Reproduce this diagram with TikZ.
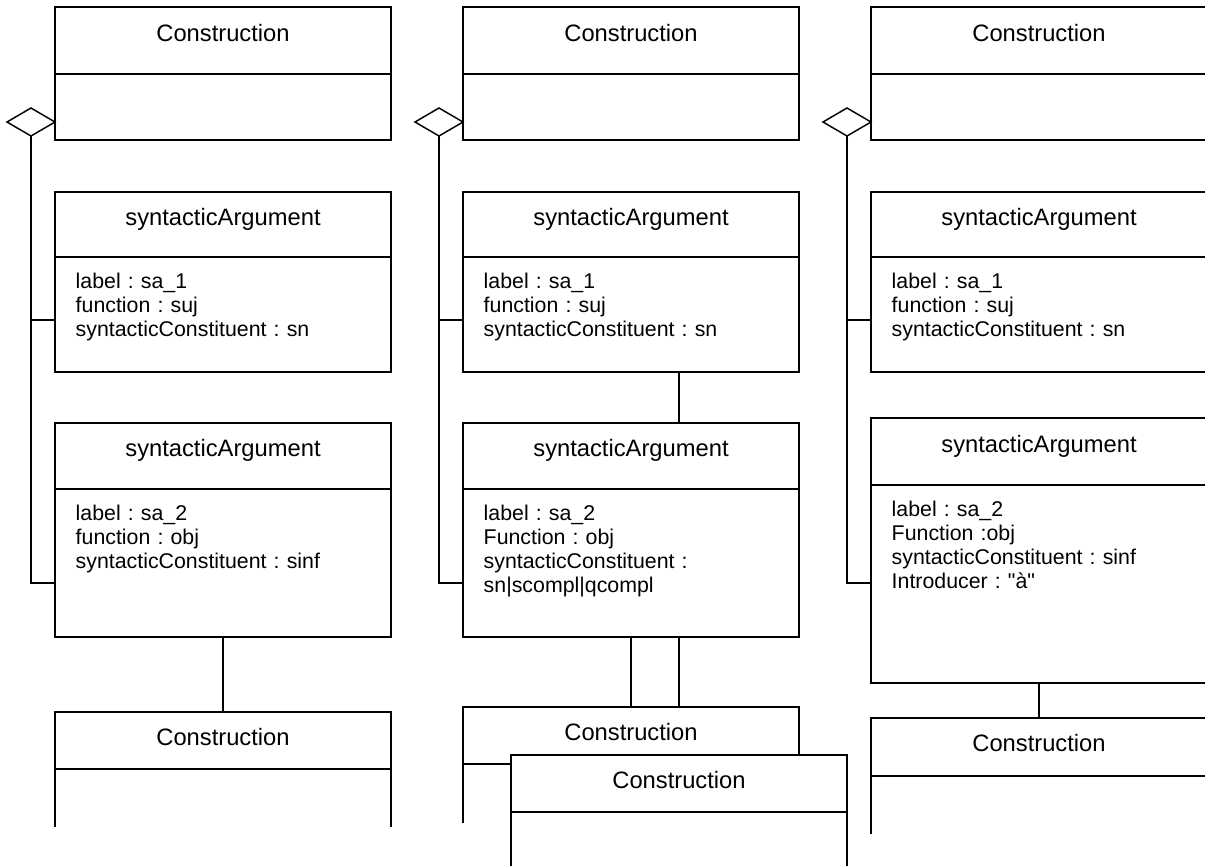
\documentclass[tikz,border=0pt]{standalone}
\usepackage{fontspec}
\setmainfont{Liberation Sans}
\usetikzlibrary{shapes.geometric}
\frenchspacing

\begin{document}
\begin{tikzpicture}[x=0.75pt,y=-0.75pt,line width=1.1pt,
  frame/.style={draw, fill=white, anchor=north west, inner sep=0pt, outer sep=0pt, minimum width=252pt},
  title/.style={anchor=base, inner sep=0pt, font=\fontsize{17.8}{20}\selectfont},
  attrs/.style={anchor=base west, inner sep=0pt, text width=240pt, align=left,
                font=\fontsize{16}{18}\selectfont},
  agg/.style={draw, fill=white, shape=diamond, inner sep=0pt, outer sep=0pt, minimum width=36pt, minimum height=21pt},
  link/.style={draw}
]
\useasboundingbox (0,0) rectangle (1205,865);

% ---------- column 1 ----------
\node[frame, minimum height=99.75pt] (C1t) at (55,7) {};
\draw (C1t.west |- 0,74) -- (C1t.east |- 0,74);
\node[title] (tC1t) at (223,41) {Construction};

\node[frame, minimum height=135pt] (S1a) at (55,192) {};
\draw (S1a.west |- 0,257) -- (S1a.east |- 0,257);
\node[title] (tS1a) at (223,225) {syntacticArgument};
\node[attrs] (aS1a) at (75,288) {label : sa\_1\\function : suj\\syntacticConstituent : sn};

\node[frame, minimum height=160.5pt] (S1b) at (55,423) {};
\draw (S1b.west |- 0,489) -- (S1b.east |- 0,489);
\node[title] (tS1b) at (223,456) {syntacticArgument};
\node[attrs] (aS1b) at (75,520) {label : sa\_2\\function : obj\\syntacticConstituent : sinf};

\node[frame, minimum height=42.75pt] (C1b) at (55,712) {};
\node[title] (tC1b) at (223,745) {Construction};
\draw (C1b.south west) -- (C1b.south west |- 0,827);
\draw (C1b.south east) -- (C1b.south east |- 0,827);

\node[agg] (D1) at (31,122) {};
\coordinate (j1a) at (55,320);
\coordinate (j1b) at (55,583);
\draw[link] (D1.south) |- (j1b);
\draw[link] (D1.south |- j1a) -- (j1a);
\draw[link] (S1b.south) -- (C1b.north);

% ---------- column 2 ----------
\node[frame, minimum height=99.75pt] (C2t) at (463,7) {};
\draw (C2t.west |- 0,74) -- (C2t.east |- 0,74);
\node[title] (tC2t) at (631,41) {Construction};

\node[frame, minimum height=135pt] (S2a) at (463,192) {};
\draw (S2a.west |- 0,257) -- (S2a.east |- 0,257);
\node[title] (tS2a) at (631,225) {syntacticArgument};
\node[attrs] (aS2a) at (483,288) {label : sa\_1\\function : suj\\syntacticConstituent : sn};

\node[frame, minimum height=160.5pt] (S2b) at (463,423) {};
\draw (S2b.west |- 0,489) -- (S2b.east |- 0,489);
\node[title] (tS2b) at (631,456) {syntacticArgument};
\node[attrs] (aS2b) at (483,520) {label : sa\_2\\Function : obj\\syntacticConstituent :\\sn|scompl|qcompl};

\node[frame, minimum height=42.75pt] (C2A) at (463,707) {};
\node[title] (tC2A) at (631,740) {Construction};
\draw (C2A.south west) -- (C2A.south west |- 0,823);

\node[frame, minimum height=42.75pt] (C2B) at (511,755) {};
\node[title] (tC2B) at (679,788) {Construction};
\draw (C2B.south west) -- (C2B.south west |- 0,872);
\draw (C2B.south east) -- (C2B.south east |- 0,872);

\node[agg] (D2) at (439,122) {};
\coordinate (j2a) at (463,320);
\coordinate (j2b) at (463,583);
\draw[link] (D2.south) |- (j2b);
\draw[link] (D2.south |- j2a) -- (j2a);
\draw[link] ([xshift=36pt]S2a.south) -- ([xshift=36pt]S2b.north);
\draw[link] (S2b.south) -- (C2A.north);
\draw[link] ([xshift=36pt]S2b.south) -- ([xshift=36pt]C2A.north);

% ---------- column 3 ----------
\node[frame, minimum height=99.75pt] (C3t) at (871,7) {};
\draw (C3t.west |- 0,74) -- (C3t.east |- 0,74);
\node[title] (tC3t) at (1039,41) {Construction};

\node[frame, minimum height=135pt] (S3a) at (871,192) {};
\draw (S3a.west |- 0,257) -- (S3a.east |- 0,257);
\node[title] (tS3a) at (1039,225) {syntacticArgument};
\node[attrs] (aS3a) at (891,288) {label : sa\_1\\function : suj\\syntacticConstituent : sn};

\node[frame, minimum height=198.75pt] (S3b) at (871,418) {};
\draw (S3b.west |- 0,485) -- (S3b.east |- 0,485);
\node[title] (tS3b) at (1039,452) {syntacticArgument};
\node[attrs] (aS3b) at (891,516) {label : sa\_2\\Function :obj\\syntacticConstituent : sinf\\Introducer : \textquotedbl à\textquotedbl};

\node[frame, minimum height=43.5pt] (C3b) at (871,718) {};
\node[title] (tC3b) at (1039,751) {Construction};
\draw (C3b.south west) -- (C3b.south west |- 0,834);
\draw (C3b.south east) -- (C3b.south east |- 0,834);

\node[agg] (D3) at (847,122) {};
\coordinate (j3a) at (871,320);
\coordinate (j3b) at (871,583);
\draw[link] (D3.south) |- (j3b);
\draw[link] (D3.south |- j3a) -- (j3a);
\draw[link] (S3b.south) -- (C3b.north);
\end{tikzpicture}
\end{document}
